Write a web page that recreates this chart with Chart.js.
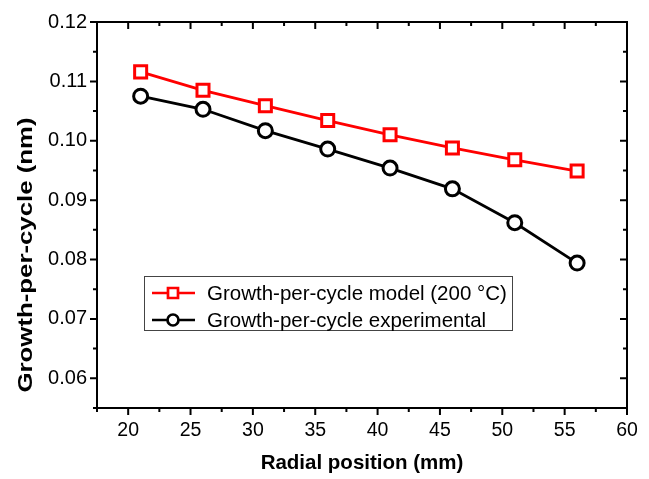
<!DOCTYPE html>
<html>
<head>
<meta charset="utf-8">
<script src="https://cdn.jsdelivr.net/npm/chart.js@4"></script>
<style>
html, body { margin: 0; padding: 0; background: #fff; }
</style>
</head>
<body>
<canvas id="growthChart" width="649" height="479"></canvas>
<script>
// data
const radialPos = [21, 26, 31, 36, 41, 46, 51, 56];
const gpcModel = [0.1116, 0.1085, 0.1059, 0.1034, 0.1010, 0.0988, 0.0968, 0.0949];
const gpcExp = [0.1075, 0.1053, 0.1017, 0.0986, 0.0954, 0.0919, 0.0862, 0.0794];
const seriesNames = ['Growth-per-cycle model (200 \u00B0C)', 'Growth-per-cycle experimental'];
const xTicks = [20, 25, 30, 35, 40, 45, 50, 55, 60];
const yTicks = [0.06, 0.07, 0.08, 0.09, 0.10, 0.11, 0.12];
const yTitle = 'Growth-per-cycle (nm)';

const fontFam = '"Liberation Sans", Arial, sans-serif';

function isMajorX(v) { return xTicks.some(t => Math.abs(t - v) < 1e-9); }
function isMajorY(v) { return yTicks.some(t => Math.abs(t - v) < 1e-9); }

// frame + Origin-like ticks (out on left/bottom, in on top/right)
const frameTicks = {
    id: 'frameTicks',
    afterDraw(chart) {
        const ctx = chart.ctx;
        const a = chart.chartArea;
        const x = chart.scales.x, y = chart.scales.y;
        ctx.save();
        ctx.strokeStyle = '#000';
        ctx.lineWidth = 2;
        ctx.strokeRect(a.left, a.top, a.right - a.left, a.bottom - a.top);
        ctx.beginPath();
        x.ticks.forEach(t => {
            const px = x.getPixelForValue(t.value);
            const len = isMajorX(t.value) ? 7 : 4;
            ctx.moveTo(px, a.bottom); ctx.lineTo(px, a.bottom + len);
            ctx.moveTo(px, a.top); ctx.lineTo(px, a.top + len);
        });
        y.ticks.forEach(t => {
            const py = y.getPixelForValue(t.value);
            const len = isMajorY(t.value) ? 7 : 4;
            ctx.moveTo(a.left, py); ctx.lineTo(a.left - len, py);
            ctx.moveTo(a.right, py); ctx.lineTo(a.right - len, py);
        });
        ctx.stroke();

        // y title, sits a bit below the plot centre in the original
        ctx.translate(26, 255);
        ctx.rotate(-Math.PI / 2);
        ctx.font = 'bold 21px ' + fontFam;
        const w = ctx.measureText(yTitle).width;
        ctx.scale(275 / w, 1);
        ctx.fillStyle = '#000';
        ctx.textAlign = 'center';
        ctx.textBaseline = 'middle';
        ctx.fillText(yTitle, 0, 0);
        ctx.restore();
    }
};

// boxed legend inside the plot
const boxLegend = {
    id: 'boxLegend',
    afterDraw(chart) {
        const ctx = chart.ctx;
        ctx.save();
        ctx.strokeStyle = '#444';
        ctx.lineWidth = 1;
        ctx.strokeRect(144.5, 276.5, 368, 54);
        ctx.font = '20.5px ' + fontFam;
        ctx.textBaseline = 'middle';
        ctx.fillStyle = '#000';
        const rows = [293, 320];
        chart.data.datasets.forEach((ds, i) => {
            const cy = rows[i];
            ctx.strokeStyle = ds.borderColor;
            ctx.lineWidth = 2.7;
            ctx.beginPath();
            ctx.moveTo(152, cy); ctx.lineTo(195, cy);
            ctx.stroke();
            ctx.fillStyle = '#fff';
            ctx.beginPath();
            if (ds.pointStyle === 'rect') {
                ctx.rect(168, cy - 5, 10, 10);
            } else {
                ctx.arc(173, cy, 5.5, 0, Math.PI * 2);
            }
            ctx.fill();
            ctx.stroke();
            ctx.fillStyle = '#000';
            ctx.fillText(ds.label, 207, cy + 1);
        });
        ctx.restore();
    }
};

const ctx = document.getElementById('growthChart').getContext('2d');
const growthChart = new Chart(ctx, {
    type: 'line',
    data: {
        datasets: [{
            label: seriesNames[0],
            data: radialPos.map((r, i) => ({ x: r, y: gpcModel[i] })),
            borderColor: '#ff0000',
            borderWidth: 2.8,
            pointStyle: 'rect',
            pointRadius: 8.5,
            pointBorderWidth: 3,
            pointBackgroundColor: '#fff',
            pointBorderColor: '#ff0000'
        }, {
            label: seriesNames[1],
            data: radialPos.map((r, i) => ({ x: r, y: gpcExp[i] })),
            borderColor: '#000',
            borderWidth: 2.8,
            pointStyle: 'circle',
            pointRadius: 7,
            pointBorderWidth: 3,
            pointBackgroundColor: '#fff',
            pointBorderColor: '#000'
        }]
    },
    options: {
        responsive: false,
        animation: false,
        layout: { padding: { left: 0, top: 19, right: 22, bottom: 0 } },
        plugins: {
            legend: { display: false },
            tooltip: { enabled: false }
        },
        scales: {
            x: {
                type: 'linear',
                min: 17.5,
                max: 60,
                afterFit: s => { s.height = 71; },
                grid: { display: false, drawTicks: false },
                border: { display: false },
                ticks: {
                    stepSize: 2.5,
                    autoSkip: false,
                    maxRotation: 0,
                    padding: 11,
                    color: '#000',
                    font: { family: fontFam, size: 19.5 },
                    callback: v => isMajorX(v) ? String(v) : ''
                },
                title: {
                    display: true,
                    text: 'Radial position (mm)',
                    color: '#000',
                    font: { family: fontFam, size: 20.5, weight: 'bold' },
                    padding: { top: 0, bottom: 3 }
                }
            },
            y: {
                type: 'linear',
                min: 0.055,
                max: 0.12,
                afterFit: s => { s.width = 97; },
                grid: { display: false, drawTicks: false },
                border: { display: false },
                ticks: {
                    stepSize: 0.005,
                    autoSkip: false,
                    padding: 10,
                    color: '#000',
                    font: { family: fontFam, size: 20 },
                    callback: v => isMajorY(v) ? v.toFixed(2) : ''
                },
                title: { display: false }
            }
        }
    },
    plugins: [frameTicks, boxLegend]
});
</script>
</body>
</html>
